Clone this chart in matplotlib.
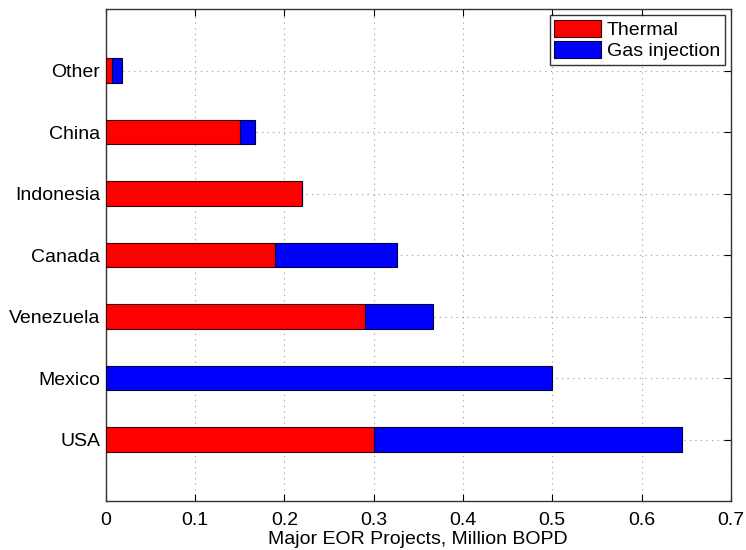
import matplotlib
matplotlib.use("Agg")
import matplotlib.pyplot as plt
import numpy as np

plt.rcParams['font.family'] = ['Liberation Sans', 'DejaVu Sans']

countries = ["USA", "Mexico", "Venezuela", "Canada", "Indonesia", "China", "Other"]
thermal = [0.30, 0.0, 0.29, 0.19, 0.22, 0.15, 0.007]
gas_injection = [0.345, 0.50, 0.076, 0.136, 0.0, 0.017, 0.011]
xticks = [0, 0.1, 0.2, 0.3, 0.4, 0.5, 0.6, 0.7]
xlabel = "Major EOR Projects, Million BOPD"

fig = plt.figure(figsize=(7.46, 5.5), dpi=100)
ax = fig.add_axes([0.1417, 0.089, 0.838, 0.8946])

pos = np.arange(1, len(countries) + 1)
ax.barh(pos, thermal, height=0.4, color="#ff0000", edgecolor="#400000",
        linewidth=0.8, label="Thermal", zorder=3)
ax.barh(pos, gas_injection, left=thermal, height=0.4, color="#0000ff",
        edgecolor="#000040", linewidth=0.8, label="Gas injection", zorder=3)

ax.set_xlim(0, 0.7)
ax.set_ylim(0, 8)
ax.set_yticks(pos)
ax.set_yticklabels(countries)
ax.set_xticks(xticks)
ax.set_xticklabels([("%g" % t) for t in xticks])
ax.set_xlabel(xlabel, fontsize=14, labelpad=1)
ax.tick_params(axis='both', direction='in', length=5, width=0.8, labelsize=14,
               top=True, right=True)
ax.tick_params(axis='x', pad=8)
ax.tick_params(axis='y', pad=4)
ax.grid(True, linestyle=(0, (1, 4)), color="#999999", linewidth=0.8, zorder=0)
ax.set_axisbelow(True)
for s in ax.spines.values():
    s.set_linewidth(1.0)
    s.set_color("#333333")

leg = ax.legend(loc="upper right", fontsize=14, frameon=True, fancybox=False,
                edgecolor="black", handlelength=2.4, handleheight=1.0,
                borderaxespad=0.3, labelspacing=0.1, handletextpad=0.3,
                borderpad=0.25)
leg.get_frame().set_linewidth(1.0)

fig.savefig("out.png", dpi=100, facecolor="white")
